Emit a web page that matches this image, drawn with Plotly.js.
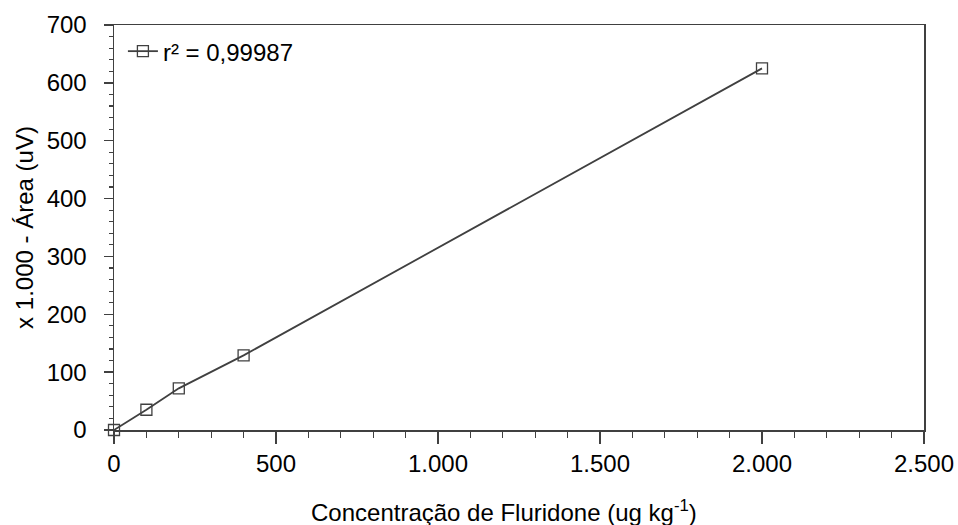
<!DOCTYPE html>
<html>
<head>
<meta charset="utf-8">
<script src="https://cdn.plot.ly/plotly-3.0.1.min.js"></script>
<style>html,body{margin:0;padding:0;background:#fff;}#chart{width:958px;height:525px;}</style>
</head>
<body>
<div id="chart"></div>
<script>
const concentration = [0, 100, 200, 400, 2000];
const area = [0, 35, 72, 129, 625];
const seriesName = "r² = 0,99987";
const xTitle = "Concentração de Fluridone (ug kg<sup>-1</sup>)";
const yTitle = "x 1.000 - Área (uV)";

const font = {family: "Liberation Sans, Arial, sans-serif", size: 24, color: "#000"};

Plotly.newPlot("chart", [{
  x: concentration,
  y: area,
  name: seriesName,
  type: "scatter",
  mode: "lines+markers",
  cliponaxis: false,
  line: {color: "#404040", width: 1.8},
  marker: {symbol: "square-open", size: 11, color: "#404040", line: {width: 1.3}}
}], {
  width: 958, height: 525,
  separators: ",.",
  font: font,
  paper_bgcolor: "#fff", plot_bgcolor: "#fff",
  margin: {l: 114, r: 34, t: 25, b: 95},
  showlegend: true,
  legend: {x: 0.011, y: 0.99, xanchor: "left", yanchor: "top", bgcolor: "rgba(0,0,0,0)", font: font, itemwidth: 30, tracegroupgap: 0},
  annotations: [{
    text: xTitle, font: font, showarrow: false,
    xref: "paper", yref: "paper", x: 0.482, y: -0.2,
    xanchor: "center", yanchor: "middle"
  }],
  xaxis: {
    range: [0, 2500], dtick: 500, tick0: 0,
    separatethousands: true,
    showgrid: false, zeroline: false,
    showline: true, linecolor: "#404040", linewidth: 1.5, mirror: true,
    ticks: "outside", ticklen: 12, tickwidth: 1.5, tickcolor: "#404040",
    minor: {dtick: 100, ticks: "outside", ticklen: 6, tickwidth: 1.2, tickcolor: "#404040", showgrid: false},
    tickfont: font
  },
  yaxis: {
    range: [0, 700], dtick: 100, tick0: 0,
    showgrid: false, zeroline: false,
    showline: true, linecolor: "#404040", linewidth: 1.5, mirror: true,
    ticks: "outside", ticklen: 9, tickwidth: 1.5, tickcolor: "#404040",
    minor: {dtick: 20, ticks: "outside", ticklen: 4, tickwidth: 1.2, tickcolor: "#404040", showgrid: false},
    ticklabelstandoff: 12,
    tickfont: font,
    title: {text: yTitle, font: font, standoff: 6}
  }
}, {staticPlot: true});
</script>
</body>
</html>
